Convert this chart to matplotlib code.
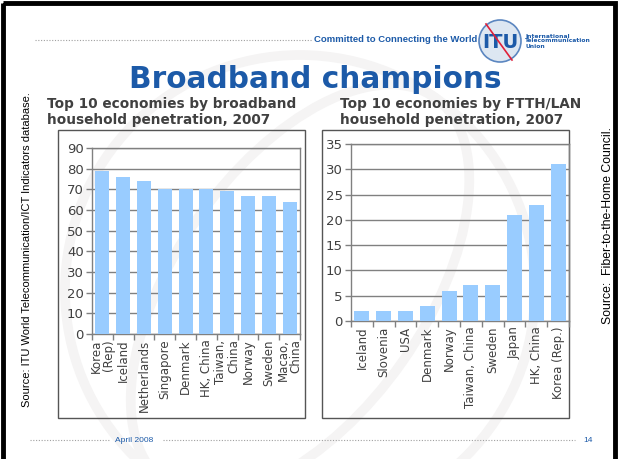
'''
Broadband champions slide: two Excel-style bar charts on an ITU slide layout
'''

import matplotlib
matplotlib.use("Agg")
import matplotlib.pyplot as plt
from matplotlib.patches import Rectangle, Circle, Ellipse
import numpy as np

# data
bb_labels = ["Korea\n(Rep)", "Iceland", "Netherlands", "Singapore", "Denmark",
             "HK, China", "Taiwan,\nChina", "Norway", "Sweden", "Macao,\nChina"]
bb_values = [79, 76, 74, 70, 70, 70, 69, 67, 67, 64]

ftth_labels = ["Iceland", "Slovenia", "USA", "Denmark", "Norway", "Taiwan, China",
               "Sweden", "Japan", "HK, China", "Korea (Rep.)"]
ftth_values = [2, 2, 2, 3, 6, 7.2, 7.2, 21, 23, 31]

W, H = 619, 459
BLUE = "#1c5aa8"
BAR = "#99ccff"
GRID = "#808080"
TXT = "#404040"


def px_box(x0, y0, x1, y1):
    # pixel box (top-left origin) -> figure fraction rect
    return [x0 / W, 1 - y1 / H, (x1 - x0) / W, (y1 - y0) / H]


def bar_panel(fig, box, labels, values, ymax, step):
    ax = fig.add_axes(px_box(*box))
    ax.patch.set_alpha(0)
    x = np.arange(len(values))
    ax.bar(x, values, width=0.68, color=BAR, zorder=3)
    ax.set_xlim(-0.5, len(values) - 0.5)
    ax.set_ylim(0, ymax)
    ax.set_yticks(np.arange(0, ymax + 1, step))
    ax.set_xticks(x)
    ax.set_xticklabels(labels, rotation=90, fontsize=8.5, color=TXT,
                       multialignment="right", linespacing=0.95)
    ax.set_xticks(np.arange(-0.5, len(values)), minor=True)
    ax.tick_params(axis="x", which="major", length=0, pad=4)
    ax.tick_params(axis="x", which="minor", length=4, color=GRID, width=1)
    ax.tick_params(axis="y", length=4, color=GRID, width=1, labelsize=9.5,
                   labelcolor=TXT, pad=2)
    ax.grid(axis="y", color=GRID, lw=1, zorder=0)
    for s in ax.spines.values():
        s.set_color(GRID)
        s.set_linewidth(1)
    return ax


fig = plt.figure(figsize=(W / 100, H / 100), dpi=100)

# background layer in pixel coordinates
bg = fig.add_axes([0, 0, 1, 1])
bg.set_xlim(0, W)
bg.set_ylim(H, 0)
bg.axis("off")

# faint globe watermark
bg.add_patch(Circle((300, 290), 235, fill=False, ec="#f5f4f4", lw=7, zorder=0))
bg.add_patch(Ellipse((300, 290), 250, 470, angle=35, fill=False, ec="#f5f4f4", lw=7, zorder=0))

# slide border
bg.add_patch(Rectangle((3, 3), W - 7, H + 10, fill=False, ec="black", lw=3.5, zorder=5))

# header
bg.plot([35, 312], [40, 40], ls=(0, (1, 1.5)), color="#a0a0a0", lw=0.8)
bg.text(477, 40, "Committed to Connecting the World", ha="right", va="center",
        fontsize=6.8, fontweight="bold", color=BLUE, family="Liberation Sans")
bg.add_patch(Circle((500, 41), 21, fc="#dde7f2", ec="#5b86c0", lw=1.2, zorder=2))
bg.text(500, 42, "ITU", ha="center", va="center", fontsize=14, fontweight="bold",
        color=BLUE, zorder=3)
bg.plot([486, 512], [24, 60], color="#e0203a", lw=1.2, zorder=4)
bg.text(525, 41, "International\nTelecommunication\nUnion", ha="left", va="center",
        fontsize=4.3, fontweight="bold", color=BLUE, linespacing=1.0)

# title and panel headings
bg.text(315, 80, "Broadband champions", ha="center", va="center",
        fontsize=21.3, fontweight="bold", color=BLUE)
bg.text(47, 112, "Top 10 economies by broadband\nhousehold penetration, 2007",
        ha="left", va="center", fontsize=9.8, fontweight="bold", color=TXT,
        linespacing=1.1)
bg.text(340, 112, "Top 10 economies by FTTH/LAN\nhousehold penetration, 2007",
        ha="left", va="center", fontsize=9.8, fontweight="bold", color=TXT,
        linespacing=1.1)

# chart frames
bg.add_patch(Rectangle((58, 130), 247, 288, fill=False, ec="#555555", lw=1))
bg.add_patch(Rectangle((322, 130), 247, 288, fill=False, ec="#555555", lw=1))

# side source notes
bg.text(27, 250, "Source: ITU World Telecommunication/ICT Indicators database.",
        rotation=90, ha="center", va="center", fontsize=8, family="Liberation Sans")
bg.text(608, 226, "Source:  Fiber-to-the-Home Council.", rotation=90,
        ha="center", va="center", fontsize=8.8, family="Liberation Sans")

# footer
bg.plot([30, 110], [440, 440], ls=(0, (1, 1.5)), color="#a0a0a0", lw=0.8)
bg.plot([163, 575], [440, 440], ls=(0, (1, 1.5)), color="#a0a0a0", lw=0.8)
bg.text(115, 440, "April 2008", ha="left", va="center", fontsize=6,
        color=BLUE, family="Liberation Sans")
bg.text(583, 440, "14", ha="left", va="center", fontsize=6,
        color=BLUE, family="Liberation Sans")

bar_panel(fig, (92, 148, 300, 334), bb_labels, bb_values, 90, 10)
bar_panel(fig, (351, 144, 569, 321), ftth_labels, ftth_values, 35, 5)

fig.savefig("out.png", dpi=100)
